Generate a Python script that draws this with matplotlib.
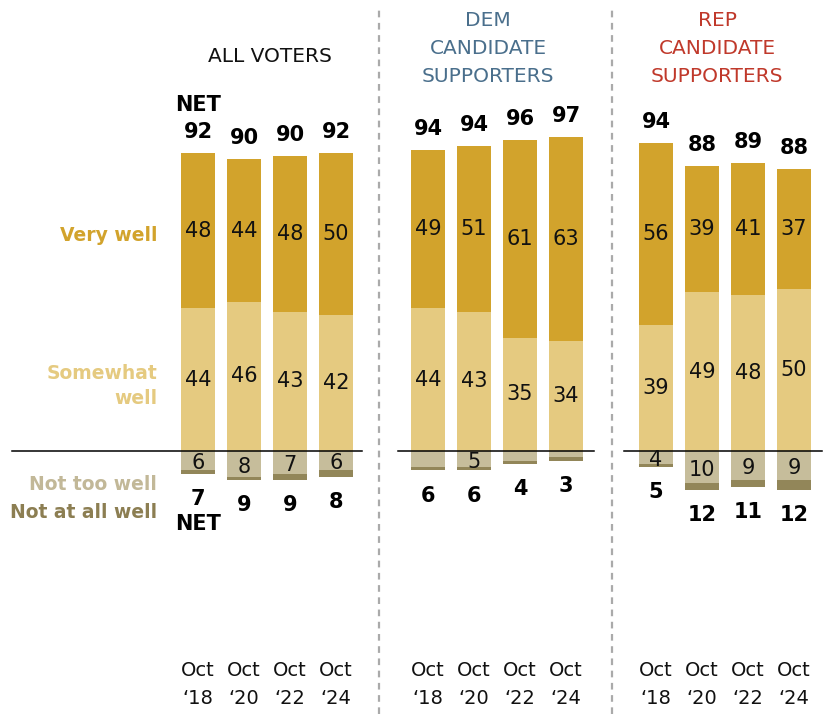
import matplotlib
matplotlib.use("Agg")
import matplotlib.pyplot as plt
from matplotlib.lines import Line2D

plt.rcParams['font.family'] = ['DejaVu Sans']

years = ["Oct\n\u201818", "Oct\n\u201820", "Oct\n\u201822", "Oct\n\u201824"]
panels = ["ALL VOTERS", "DEM\nCANDIDATE\nSUPPORTERS", "REP\nCANDIDATE\nSUPPORTERS"]
title_colors = ["#111111", "#4a6f8c", "#c0392b"]

very_well = [[48, 44, 48, 50], [49, 51, 61, 63], [56, 39, 41, 37]]
somewhat_well = [[44, 46, 43, 42], [44, 43, 35, 34], [39, 49, 48, 50]]
net_well = [[92, 90, 90, 92], [94, 94, 96, 97], [94, 88, 89, 88]]
not_too_well = [[6, 8, 7, 6], [5, 5, 3, 2], [4, 10, 9, 9]]
not_at_all = [[1, 1, 2, 2], [1, 1, 1, 1], [1, 2, 2, 3]]
net_not_well = [[7, 9, 9, 8], [6, 6, 4, 3], [5, 12, 11, 12]]
# which "not too well" segments carry a number
show_ntw = [[True, True, True, True], [False, True, False, False], [True, True, True, True]]

c_very = "#d2a32c"
c_some = "#e5ca80"
c_ntw = "#c6bd9b"
c_nat = "#928659"

W, H = 823, 714
fig = plt.figure(figsize=(W / 100, H / 100), dpi=100)

px_per_unit = 3.24
zero_y = 451
ylo, yhi = -30, 105
ax_bottom = (H - zero_y + ylo * px_per_unit) / H
ax_height = (yhi - ylo) * px_per_unit / H
lefts = [175, 405, 633]
ax_w = 184
zero_spans = [(12, 362), (398, 594), (624, 822)]
title_x = [270, 488, 717]

num_fs = 15
net_fs = 15

for p in range(3):
    ax = fig.add_axes([lefts[p] / W, ax_bottom, ax_w / W, ax_height])
    x = list(range(4))
    bw = 0.76
    ax.bar(x, very_well[p], bw, bottom=somewhat_well[p], color=c_very)
    ax.bar(x, somewhat_well[p], bw, color=c_some)
    ax.bar(x, [-v for v in not_too_well[p]], bw, color=c_ntw)
    ax.bar(x, [-v for v in not_at_all[p]], bw,
           bottom=[-v for v in not_too_well[p]], color=c_nat)

    l0, r0 = zero_spans[p]
    ax.axhline(0, xmin=(l0 - lefts[p]) / ax_w, xmax=(r0 - lefts[p]) / ax_w,
               color='black', lw=1.1, clip_on=False)

    for i in x:
        ax.text(i, somewhat_well[p][i] + very_well[p][i] / 2, str(very_well[p][i]),
                ha='center', va='center', fontsize=num_fs, color='#111111')
        ax.text(i, somewhat_well[p][i] / 2, str(somewhat_well[p][i]),
                ha='center', va='center', fontsize=num_fs, color='#111111')
        if show_ntw[p][i]:
            ax.text(i, -not_too_well[p][i] / 2 - 0.8, str(not_too_well[p][i]),
                    ha='center', va='center', fontsize=num_fs, color='#111111',
                    zorder=5)
        top = somewhat_well[p][i] + very_well[p][i]
        ax.annotate(str(net_well[p][i]), (i, top), xytext=(0, 8),
                    textcoords='offset points', ha='center', va='bottom',
                    fontsize=net_fs, fontweight='bold', annotation_clip=False)
        bot = -(not_too_well[p][i] + not_at_all[p][i])
        ax.annotate(str(net_not_well[p][i]), (i, bot), xytext=(0, -11),
                    textcoords='offset points', ha='center', va='top',
                    fontsize=net_fs, fontweight='bold', annotation_clip=False)

    ax.set_xlim(-0.5, 3.5)
    ax.set_ylim(ylo, yhi)
    ax.axis('off')

    for i, lab in enumerate(years):
        fig.text((lefts[p] + 23 + 46 * i) / W, 1 - 684 / H, lab, ha='center',
                 va='center', fontsize=14, linespacing=1.6, color='#111111')

    fig.text(title_x[p] / W, 1 - (57 if p == 0 else 48) / H, panels[p],
             ha='center', va='center', fontsize=14.5, color=title_colors[p],
             linespacing=1.6)

    if p == 0:
        ax.annotate("NET", (0, very_well[0][0] + somewhat_well[0][0]), xytext=(0, 27),
                    textcoords='offset points', ha='center', va='bottom',
                    fontsize=net_fs, fontweight='bold', annotation_clip=False)
        ax.annotate("NET", (0, -net_not_well[0][0]), xytext=(0, -29),
                    textcoords='offset points', ha='center', va='top',
                    fontsize=net_fs, fontweight='bold', annotation_clip=False)
        lx = 157
        for txt, py, col in [("Very well", 236, c_very),
                             ("Somewhat\nwell", 386, c_some),
                             ("Not too well", 484, "#c2b898"),
                             ("Not at all well", 512, "#8c7e52")]:
            fig.text(lx / W, 1 - py / H, txt, ha='right', va='center',
                     fontsize=13.5, fontweight='bold', color=col, linespacing=1.45)

for sx in [379, 612]:
    fig.add_artist(Line2D([sx / W, sx / W], [0, 1 - 8 / H], transform=fig.transFigure,
                          color='#aaaaaa', lw=1.6, ls=(0, (3, 2.5))))

fig.savefig("out.png", dpi=100, facecolor='white')
